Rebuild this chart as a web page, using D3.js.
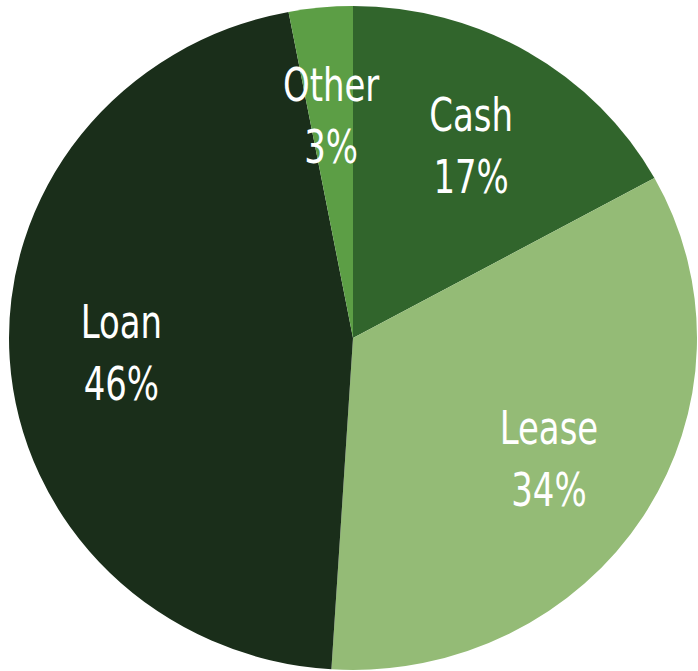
<!DOCTYPE html>
<html>
<head>
<meta charset="utf-8">
<script src="https://cdn.jsdelivr.net/npm/d3@7"></script>
<style>
  body { margin: 0; background: #fff; }
  svg { display: block; }
</style>
</head>
<body>
<svg id="piechart" width="698" height="671"></svg>
<script>
var categories = ["Cash", "Lease", "Loan", "Other"];
var values = [17, 34, 46, 3];
var colors = ["#31652c", "#94bb76", "#1a2e1a", "#5c9e45"];

function pieChart() {
    var cx = 353, cy = 338;
    var ry = 332, rx = 344;      // the pie is slightly wider than tall
    var sx = rx / ry;
    var textSqueeze = 0.82;      // condensed look for the labels

    var svg = d3.select("#piechart");

    var data = categories.map((c, i) => ({name: c, value: values[i], color: colors[i]}));

    var pie = d3.pie()
        .sort(null)
        .value(d => d.value);

    var arc = d3.arc()
        .innerRadius(0)
        .outerRadius(ry);

    var labelArc = d3.arc()
        .innerRadius(224)
        .outerRadius(224);

    var arcs = pie(data);

    /* slices */
    svg.append("g")
        .attr("transform", "translate(" + cx + "," + cy + ") scale(" + sx + ",1)")
        .selectAll("path")
        .data(arcs)
        .enter()
        .append("path")
        .attr("d", arc)
        .attr("fill", d => d.data.color);

    /* labels */
    var labels = svg.append("g")
        .attr("transform", "translate(" + cx + "," + cy + ")")
        .selectAll("text")
        .data(arcs)
        .enter()
        .append("text")
        .attr("transform", d => "translate(" + (labelArc.centroid(d)[0] * sx) + "," + labelArc.centroid(d)[1] + ") scale(" + textSqueeze + ",1)")
        .attr("text-anchor", "middle")
        .attr("fill", "#fff")
        .style("font-family", "'DejaVu Sans Condensed', 'DejaVu Sans', sans-serif")
        .style("font-size", "46px");

    labels.append("tspan")
        .attr("x", 0)
        .attr("y", -14)
        .text(d => d.data.name);

    labels.append("tspan")
        .attr("x", 0)
        .attr("y", 48)
        .text(d => d.data.value + "%");

    return svg;
}
pieChart();
</script>
</body>
</html>
